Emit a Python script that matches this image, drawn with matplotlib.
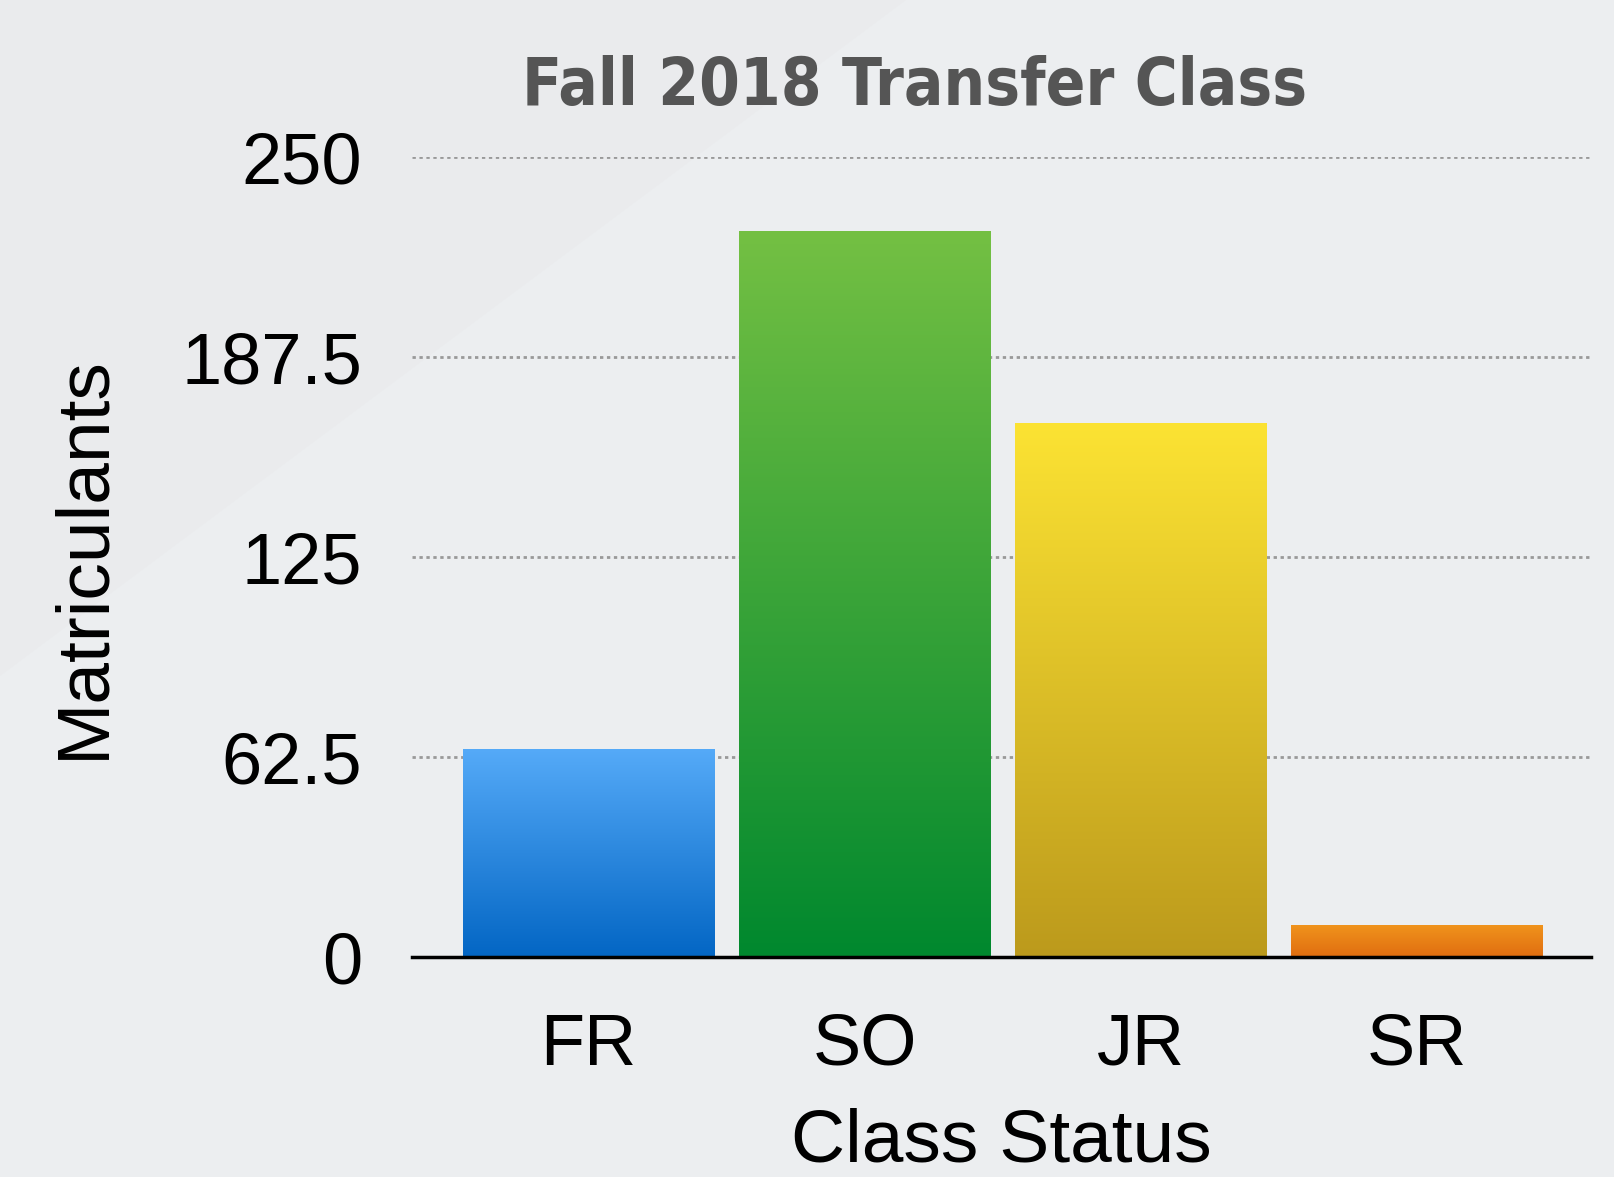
import numpy as np
import matplotlib.pyplot as plt
from matplotlib.colors import to_rgb
from matplotlib.patches import Polygon

categories = ['FR', 'SO', 'JR', 'SR']
matriculants = [65, 227, 167, 10]
yticks = [0, 62.5, 125, 187.5, 250]
ytick_labels = ['0', '62.5', '125', '187.5', '250']
# top and bottom colours of each bar's gradient
top_colors = ['#55aaf8', '#74c043', '#fce333', '#f0931c']
bottom_colors = ['#0366c4', '#00882e', '#bc9a1c', '#e06d10']

plt.rcParams['font.family'] = ['Liberation Sans', 'DejaVu Sans']

fig = plt.figure(figsize=(16.14, 11.77), dpi=100)
fig.patch.set_facecolor('#eceef0')
# faint diagonal shading in the upper left corner
fig.patches.append(Polygon([[0, 1], [906 / 1614, 1], [0, 1 - 676 / 1177]],
                           closed=True, transform=fig.transFigure,
                           facecolor='#eaebed', edgecolor='none', zorder=-1))

ax = fig.add_axes([412 / 1614, 220 / 1177, 1179 / 1614, 800 / 1177])
ax.set_facecolor('none')

x = np.arange(len(categories))
bars = ax.bar(x, matriculants, width=0.91, color=bottom_colors, zorder=2)

for bar, c_top, c_bot in zip(bars, top_colors, bottom_colors):
    t = np.linspace(0, 1, 256)[:, None, None]
    grad = (1 - t) * np.array(to_rgb(c_top)) + t * np.array(to_rgb(c_bot))
    x0 = bar.get_x()
    img = ax.imshow(grad, extent=[x0, x0 + bar.get_width(), 0, bar.get_height()],
                    origin='upper', aspect='auto', zorder=3, interpolation='bilinear')
    img.set_clip_path(bar)

ax.set_xlim(-0.64, 3.63)
ax.set_ylim(0, 250)

ax.set_yticks(yticks)
ax.set_yticklabels(ytick_labels)
ax.set_xticks(x)
ax.set_xticklabels(categories)
ax.tick_params(axis='both', length=0, labelsize=52, colors='black')
ax.tick_params(axis='y', pad=36)
ax.tick_params(axis='x', pad=40)

for yv in yticks[1:]:
    ax.axhline(yv, color='#999999', lw=2, linestyle=(0, (1.2, 1.3)), zorder=1)

for side in ['top', 'right', 'left']:
    ax.spines[side].set_visible(False)
ax.spines['bottom'].set_linewidth(2.5)
ax.spines['bottom'].set_color('black')
ax.spines['bottom'].set_zorder(4)

ax.set_ylabel('Matriculants', fontsize=54, labelpad=45)
ax.set_xlabel('Class Status', fontsize=54, labelpad=20)

fig.text(915 / 1614, 1 - 105 / 1177, 'Fall 2018 Transfer Class',
         fontsize=47, fontweight='bold', fontstretch='condensed', color='#555555',
         family=['DejaVu Sans'], ha='center', va='baseline')

fig.savefig('out.png', dpi=100, facecolor=fig.get_facecolor())
